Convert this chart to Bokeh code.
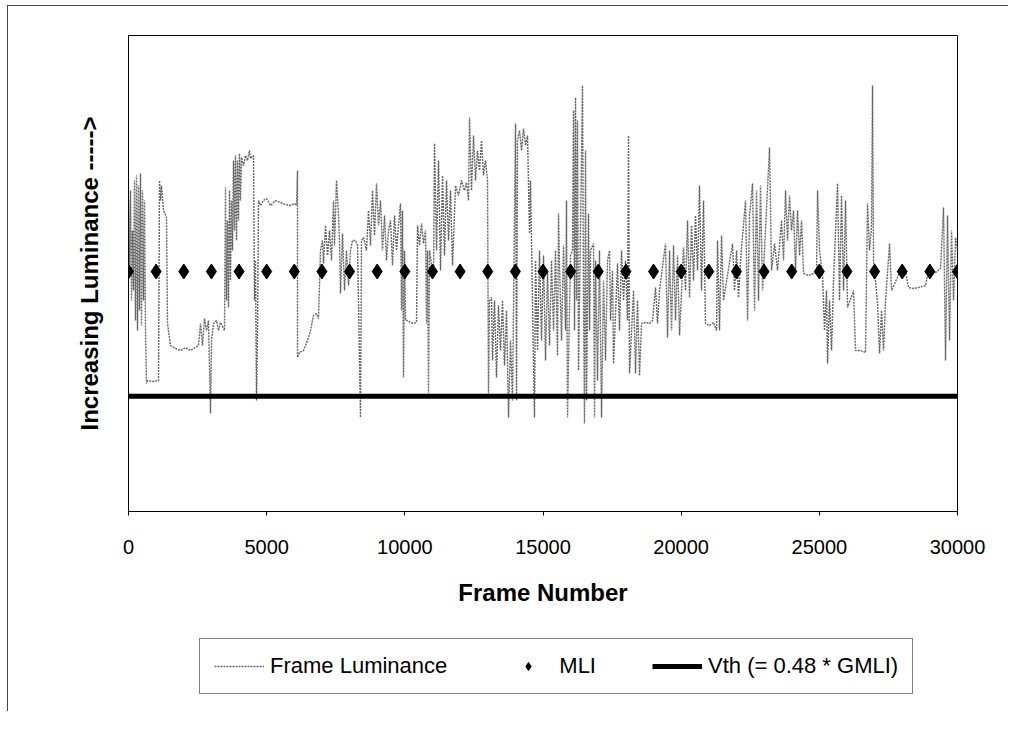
from bokeh.plotting import figure
from bokeh.models import Range1d, FixedTicker, Legend, LegendItem
from bokeh.layouts import column
from bokeh.embed import file_html
from bokeh.resources import INLINE

FONT = "Liberation Sans"

# Frame luminance trace (frame number, luminance in arbitrary units)
lum_frames = [
    0, 36, 72, 109, 145, 181, 217, 253, 290, 326,
    362, 398, 434, 470, 507, 543, 579, 615, 651, 688,
    869, 1086, 1122, 1158, 1194, 1267, 1375, 1411, 1520, 1701,
    1882, 2063, 2244, 2533, 2606, 2678, 2750, 2823, 2895, 2968,
    3004, 3076, 3185, 3257, 3329, 3474, 3510, 3547, 3583, 3619,
    3655, 3691, 3728, 3764, 3800, 3836, 3872, 3909, 3945, 3981,
    4017, 4053, 4089, 4162, 4234, 4307, 4379, 4415, 4524, 4560,
    4596, 4632, 4669, 4705, 4777, 4886, 4994, 5139, 5320, 5501,
    5682, 5863, 6008, 6080, 6116, 6116, 6188, 6333, 6478, 6587,
    6695, 6804, 6876, 6948, 7021, 7057, 7129, 7202, 7274, 7347,
    7419, 7455, 7528, 7600, 7636, 7672, 7745, 7817, 7889, 7962,
    8034, 8107, 8215, 8288, 8396, 8432, 8505, 8613, 8686, 8758,
    8830, 8903, 8975, 9048, 9120, 9192, 9265, 9337, 9409, 9482,
    9554, 9627, 9699, 9771, 9844, 9880, 9916, 9952, 9988, 10025,
    10097, 10206, 10314, 10423, 10459, 10531, 10604, 10676, 10748, 10785,
    10821, 10857, 10893, 11038, 11074, 11147, 11219, 11291, 11364, 11436,
    11508, 11581, 11653, 11726, 11834, 11943, 12051, 12160, 12232, 12305,
    12341, 12413, 12486, 12558, 12630, 12703, 12775, 12847, 12920, 12992,
    13028, 13065, 13137, 13173, 13246, 13318, 13390, 13463, 13535, 13607,
    13680, 13752, 13825, 13897, 14006, 14042, 14078, 14150, 14223, 14295,
    14367, 14440, 14512, 14548, 14657, 14693, 14729, 14802, 14874, 14946,
    15019, 15091, 15164, 15236, 15308, 15381, 15453, 15525, 15562, 15598,
    15670, 15743, 15815, 15851, 15887, 15924, 15996, 16068, 16105, 16141,
    16177, 16213, 16249, 16286, 16430, 16466, 16503, 16539, 16575, 16647,
    16684, 16720, 16829, 16865, 16901, 16973, 17045, 17118, 17190, 17263,
    17335, 17407, 17444, 17516, 17552, 17697, 17769, 17842, 17914, 17986,
    18059, 18095, 18131, 18276, 18348, 18421, 18493, 18565, 18710, 18855,
    18964, 19072, 19145, 19217, 19434, 19507, 19579, 19651, 19724, 19796,
    19868, 19941, 20085, 20158, 20230, 20303, 20375, 20447, 20520, 20592,
    20664, 20737, 20809, 20881, 21026, 21171, 21280, 21316, 21388, 21461,
    21533, 21859, 21931, 22004, 22076, 22148, 22329, 22402, 22474, 22583,
    22655, 22727, 22800, 22872, 22944, 23198, 23270, 23379, 23487, 23560,
    23632, 23704, 23777, 23849, 23922, 23994, 24066, 24139, 24211, 24284,
    24356, 24428, 24609, 24790, 24899, 24935, 25007, 25116, 25188, 25261,
    25297, 25369, 25442, 25514, 25659, 25731, 25803, 25876, 25948, 26021,
    26238, 26310, 26491, 26672, 26744, 26817, 26889, 26925, 26962, 27107,
    27179, 27251, 27323, 27396, 27541, 27613, 27939, 28120, 28228, 28409,
    28590, 28843, 28952, 29205, 29386, 29495, 29567, 29639, 29712, 29784,
    29857, 29929, 30000,
]
lum_values = [
    311, 246, 321, 211, 281, 221, 331, 191, 336, 181,
    326, 201, 338, 186, 321, 211, 311, 181, 128, 131,
    130, 131, 331, 311, 326, 301, 294, 188, 166, 163,
    161, 164, 161, 166, 188, 166, 193, 181, 191, 98,
    171, 188, 191, 181, 189, 181, 324, 211, 291, 204,
    321, 231, 311, 261, 351, 281, 356, 271, 351, 291,
    358, 311, 354, 346, 356, 351, 361, 353, 356, 211,
    251, 111, 181, 311, 306, 311, 313, 306, 311, 309,
    307, 306, 308, 306, 341, 154, 159, 161, 171, 181,
    196, 198, 193, 261, 271, 248, 286, 256, 281, 251,
    311, 266, 331, 296, 271, 218, 278, 221, 261, 226,
    261, 271, 271, 266, 94, 271, 274, 261, 301, 266,
    321, 276, 328, 286, 311, 261, 296, 251, 281, 291,
    246, 296, 261, 286, 308, 201, 301, 134, 261, 191,
    191, 189, 188, 189, 286, 266, 288, 268, 281, 188,
    261, 118, 261, 234, 368, 261, 351, 241, 336, 256,
    331, 271, 321, 246, 326, 316, 331, 321, 329, 311,
    394, 321, 376, 331, 361, 341, 371, 336, 351, 331,
    118, 211, 214, 151, 211, 134, 206, 161, 211, 146,
    201, 94, 171, 111, 388, 111, 371, 381, 361, 383,
    366, 376, 278, 331, 148, 94, 251, 161, 261, 171,
    256, 151, 241, 166, 251, 181, 261, 156, 298, 246,
    171, 266, 181, 311, 94, 151, 256, 261, 401, 181,
    414, 211, 391, 141, 426, 211, 88, 361, 111, 298,
    181, 261, 268, 94, 251, 131, 261, 94, 231, 151,
    251, 261, 191, 241, 148, 248, 181, 261, 211, 251,
    191, 376, 138, 221, 138, 211, 136, 188, 189, 188,
    191, 224, 188, 221, 268, 174, 261, 181, 266, 191,
    256, 176, 264, 221, 291, 214, 286, 231, 296, 241,
    326, 221, 311, 188, 186, 189, 181, 271, 181, 276,
    211, 268, 221, 261, 214, 251, 311, 191, 296, 328,
    201, 321, 211, 326, 221, 364, 241, 268, 241, 266,
    291, 251, 321, 271, 316, 281, 301, 241, 301, 256,
    291, 238, 236, 238, 239, 321, 261, 236, 181, 221,
    148, 211, 161, 231, 328, 211, 316, 221, 311, 204,
    221, 161, 161, 159, 308, 261, 286, 426, 251, 208,
    158, 201, 161, 211, 268, 221, 241, 239, 224, 223,
    224, 226, 241, 239, 243, 304, 151, 296, 171, 281,
    211, 274, 261,
]

# Mean luminance index, every 1000 frames
mli_frames = [f for f in range(0, 30001, 1000)]
gmli = 240
mli_values = [gmli] * len(mli_frames)

# Threshold Vth = 0.48 * GMLI
vth_factor = 0.48
vth_frames = [0, 30000]
vth_values = [vth_factor * gmli] * 2

x_ticks = [0, 5000, 10000, 15000, 20000, 25000, 30000]
x_tick_labels = ["0", "5000", "10000", "15000", "20000", "25000", "30000"]

series_labels = ["Frame Luminance", "MLI", "Vth (= 0.48 * GMLI)"]

LUM_STYLE = dict(line_color="#666666", line_width=1.4, line_dash="2 1")
VTH_STYLE = dict(line_color="black", line_width=5)
MLI_STYLE = dict(marker="diamond", size=15, fill_color="black", line_color="black")

p = figure(frame_width=829, frame_height=476, output_backend="svg",
           toolbar_location=None,
           x_range=Range1d(0, 30000), y_range=Range1d(0, 476),
           min_border_left=120, min_border_right=48, min_border_top=29,
           min_border_bottom=110)
p.grid.visible = False
p.outline_line_color = "black"
p.outline_line_width = 1
p.background_fill_color = "white"
p.border_fill_color = "white"

p.line(lum_frames, lum_values, **LUM_STYLE)
p.line(vth_frames, vth_values, **VTH_STYLE)
p.scatter(mli_frames, mli_values, **MLI_STYLE)

xa = p.xaxis[0]
xa.ticker = FixedTicker(ticks=x_ticks)
xa.major_label_overrides = {t: l for t, l in zip(x_ticks, x_tick_labels)}
xa.major_tick_in = 0
xa.major_tick_out = 4
xa.minor_tick_line_color = None
xa.axis_line_color = "black"
xa.major_label_text_font = FONT
xa.major_label_text_font_size = "20px"
xa.major_label_text_color = "black"
xa.major_label_standoff = 24
xa.axis_label = "Frame Number"
xa.axis_label_text_font = FONT
xa.axis_label_text_font_style = "bold"
xa.axis_label_text_font_size = "24px"
xa.axis_label_text_color = "black"
xa.axis_label_standoff = 22

ya = p.yaxis[0]
ya.ticker = FixedTicker(ticks=[])
ya.major_tick_line_color = None
ya.minor_tick_line_color = None
ya.axis_line_color = "black"
ya.axis_label = "Increasing Luminance ----->"
ya.axis_label_text_font = FONT
ya.axis_label_text_font_style = "bold"
ya.axis_label_text_font_size = "24px"
ya.axis_label_text_color = "black"
ya.axis_label_standoff = 26

# Legend strip below the chart: key renderers reuse the series data, which
# lies entirely outside this strip's (0..1) view, so only the legend shows.
pl = figure(frame_width=1000, frame_height=90, output_backend="svg",
            toolbar_location=None, min_border=0,
            x_range=Range1d(0, 1), y_range=Range1d(0, 1),
            x_axis_location=None, y_axis_location=None)
pl.grid.visible = False
pl.outline_line_color = None
pl.background_fill_color = "white"
pl.border_fill_color = "white"
k_lum = pl.line(lum_frames, lum_values, **LUM_STYLE)
k_mli = pl.scatter(mli_frames, mli_values, **MLI_STYLE)
k_vth = pl.line(vth_frames, vth_values, **VTH_STYLE)

legend = Legend(items=[
    LegendItem(label=series_labels[0], renderers=[k_lum]),
    LegendItem(label=series_labels[1], renderers=[k_mli]),
    LegendItem(label=series_labels[2], renderers=[k_vth]),
], orientation="horizontal", location=(191, 17))
legend.border_line_color = "black"
legend.border_line_width = 1
legend.background_fill_color = "white"
legend.background_fill_alpha = 1
legend.padding = 14
legend.spacing = 56
legend.glyph_width = 50
legend.glyph_height = 20
legend.label_standoff = 6
legend.label_text_font = FONT
legend.label_text_font_size = "22px"
legend.label_text_color = "black"
legend.margin = 0
pl.add_layout(legend, "center")

layout = column(p, pl, spacing=0)
layout.styles = {"margin-left": "7px", "margin-top": "5px",
                 "border-left": "1px solid #444", "border-top": "1px solid #444"}

open("out.html", "w").write(file_html(layout, INLINE))
